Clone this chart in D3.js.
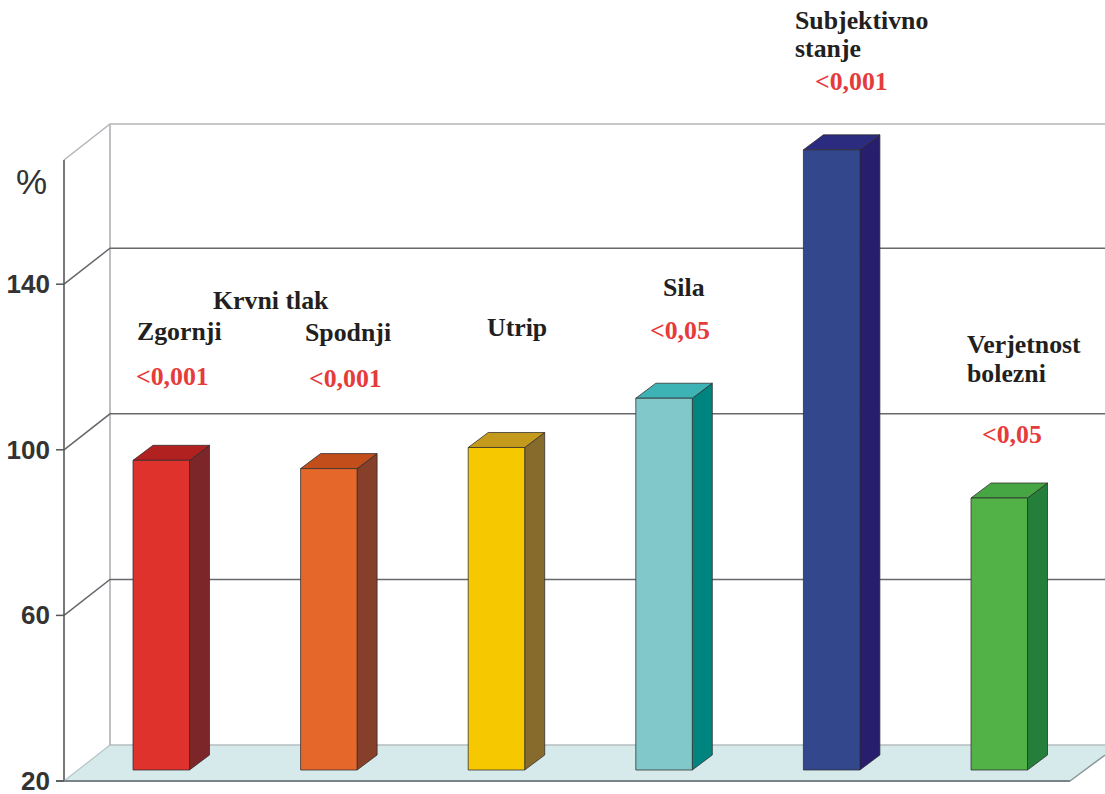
<!DOCTYPE html>
<html>
<head>
<meta charset="utf-8">
<script src="https://cdn.jsdelivr.net/npm/d3@7"></script>
<style>
  html, body { margin: 0; padding: 0; background: #fff; overflow: hidden; }
  svg { display: block; }
  .lab { font-family: "Liberation Serif", serif; font-weight: bold; font-size: 25.8px; fill: #231f20; }
  .sig { font-family: "Liberation Serif", serif; font-weight: bold; font-size: 25.8px; fill: #e63b3b; }
  .tick-lab { font-family: "Liberation Sans", sans-serif; font-weight: bold; font-size: 26px; fill: #333; }
</style>
</head>
<body>
<svg id="chart" width="1105" height="794"></svg>
<script>
const categories = ["Zgornji", "Spodnji", "Utrip", "Sila", "Subjektivno stanje", "Verjetnost bolezni"];
const values = [94.8, 92.8, 97.9, 109.8, 169.8, 85.7];
const pValues = ["<0,001", "<0,001", "", "<0,05", "<0,001", "<0,05"];
const yTicks = [20, 60, 100, 140];
const yMin = 20;
const yMax = 170;

const frontColors = ["#df322d", "#e5682a", "#f5c800", "#80c8ca", "#33478d", "#52b247"];
const topColors = ["#b1211f", "#c24e1b", "#c49a1c", "#3db3b6", "#2b2b80", "#46a644"];
const sideColors = ["#7c2629", "#86402a", "#876b2c", "#00847f", "#271f6d", "#237f39"];

const svg = d3.select("#chart");
const axisX = 64;
const depth = { x: 46, y: -36 };      // wall offset from the front axis
const barDepth = { x: 20, y: -15 };   // depth of a bar
const barOffset = { x: 14, y: -11 };  // bars stand a little in from the floor edge
const barWidth = 56.5;
const rightEnd = 1070;

const y = d3.scaleLinear().domain([yMin, yMax]).range([781, 160]);
const x = d3.scalePoint().domain(categories).range([147.25, 985.25]);

// floor
svg.append("path")
  .attr("d", `M${axisX},${y(yMin)}L${axisX + depth.x},${y(yMin) + depth.y}L1105,${y(yMin) + depth.y}L1105,755L${rightEnd},${y(yMin)}Z`)
  .attr("fill", "#d6eaec");
svg.append("path")
  .attr("d", `M${rightEnd},${y(yMin)}L1105,755`)
  .attr("fill", "none").attr("stroke", "#8a9799").attr("stroke-width", 1.5);
svg.append("line")
  .attr("x1", axisX + depth.x).attr("x2", 1105)
  .attr("y1", y(yMin) + depth.y).attr("y2", y(yMin) + depth.y)
  .attr("stroke", "#b5bcbe").attr("stroke-width", 1.5);

// wall top and vertical
svg.append("line")
  .attr("x1", axisX + depth.x).attr("x2", axisX + depth.x)
  .attr("y1", y(yMax) + depth.y).attr("y2", y(yMin) + depth.y)
  .attr("stroke", "#a9abb0").attr("stroke-width", 1.5);
svg.append("path")
  .attr("d", `M${axisX},${y(yMax)}L${axisX + depth.x},${y(yMax) + depth.y}L1105,${y(yMax) + depth.y}`)
  .attr("fill", "none").attr("stroke", "#b4b5b8").attr("stroke-width", 1.5);

// gridlines: side wall slant + back wall
const grid = svg.append("g");
yTicks.filter((d) => d !== yMin).forEach((d) => {
  grid.append("path")
    .attr("d", `M${axisX},${y(d)}L${axisX + depth.x},${y(d) + depth.y}L1105,${y(d) + depth.y}`)
    .attr("fill", "none").attr("stroke", "#66686b").attr("stroke-width", 1.5);
});
// slant of the floor on the side
svg.append("line")
  .attr("x1", axisX).attr("y1", y(yMin))
  .attr("x2", axisX + depth.x).attr("y2", y(yMin) + depth.y)
  .attr("stroke", "#b5c4c6").attr("stroke-width", 1.2);

// front axis
svg.append("line")
  .attr("x1", axisX).attr("x2", axisX)
  .attr("y1", y(yMax)).attr("y2", y(yMin))
  .attr("stroke", "#55575a").attr("stroke-width", 1.6);
svg.append("line")
  .attr("x1", axisX - 8).attr("x2", rightEnd)
  .attr("y1", y(yMin)).attr("y2", y(yMin))
  .attr("stroke", "#7b8587").attr("stroke-width", 1.8);

const ticks = svg.append("g").selectAll("g").data(yTicks).join("g")
  .attr("transform", (d) => `translate(${axisX},${y(d)})`);
ticks.append("line").attr("x1", -8).attr("x2", 0).attr("stroke", "#55575a").attr("stroke-width", 1.5);
ticks.append("text").attr("class", "tick-lab")
  .attr("x", -14).attr("y", 9).attr("text-anchor", "end")
  .text((d) => d);

svg.append("text")
  .attr("x", 16).attr("y", 194)
  .attr("font-family", "Liberation Sans, sans-serif")
  .attr("font-size", 35).attr("fill", "#333")
  .text("%");

// bars
const bars = svg.append("g").selectAll("g").data(categories).join("g");
const barLeft = (d) => x(d) - barWidth / 2 + barOffset.x;
const barTop = (i) => y(values[i]) + barOffset.y;
const barBase = y(yMin) + barOffset.y;

bars.append("path") // side
  .attr("d", (d, i) => {
    const r = barLeft(d) + barWidth, t = barTop(i);
    return `M${r},${t}L${r + barDepth.x},${t + barDepth.y}L${r + barDepth.x},${barBase + barDepth.y}L${r},${barBase}Z`;
  })
  .attr("fill", (d, i) => sideColors[i]);
bars.append("path") // top
  .attr("d", (d, i) => {
    const l = barLeft(d), t = barTop(i);
    return `M${l},${t}L${l + barDepth.x},${t + barDepth.y}L${l + barWidth + barDepth.x},${t + barDepth.y}L${l + barWidth},${t}Z`;
  })
  .attr("fill", (d, i) => topColors[i]);
bars.append("rect") // front
  .attr("x", barLeft)
  .attr("y", (d, i) => barTop(i))
  .attr("width", barWidth)
  .attr("height", (d, i) => barBase - barTop(i))
  .attr("fill", (d, i) => frontColors[i]);
bars.selectAll("path,rect")
  .attr("stroke", "#2e2a2b").attr("stroke-opacity", 0.75).attr("stroke-width", 1).attr("stroke-linejoin", "round");

// labels
const labelLines = [
  { t: "Krvni tlak", x: 213, y: 309 },
  { t: "Zgornji", x: 137, y: 340 },
  { t: "Spodnji", x: 305, y: 341 },
  { t: "Utrip", x: 487, y: 336 },
  { t: "Sila", x: 663, y: 296 },
  { t: "Subjektivno", x: 795, y: 29 },
  { t: "stanje", x: 795, y: 57 },
  { t: "Verjetnost", x: 967, y: 353 },
  { t: "bolezni", x: 967, y: 382 }
];
const sigPos = [[136, 385], [309, 387], null, [650, 339], [815, 90], [982, 443]];

svg.append("g").selectAll("text").data(labelLines).join("text")
  .attr("class", "lab")
  .attr("x", (d) => d.x).attr("y", (d) => d.y)
  .text((d) => d.t);

svg.append("g").selectAll("text").data(pValues.filter((d) => d)).join("text")
  .attr("class", "sig")
  .attr("x", (d, i) => sigPos.filter(Boolean)[i][0])
  .attr("y", (d, i) => sigPos.filter(Boolean)[i][1])
  .text((d) => d);
</script>
</body>
</html>
